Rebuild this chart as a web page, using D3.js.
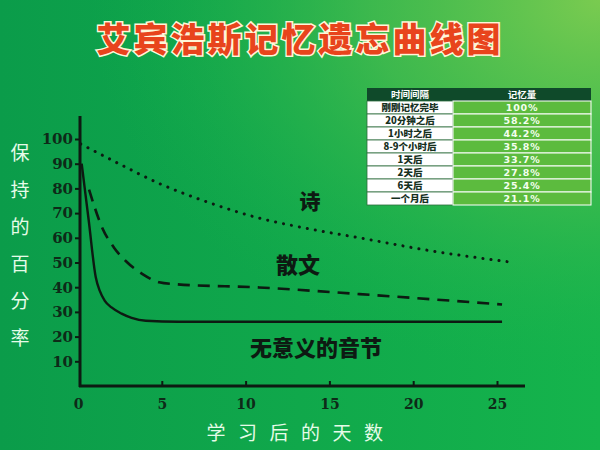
<!DOCTYPE html>
<html><head><meta charset="utf-8">
<script src="https://cdn.jsdelivr.net/npm/d3@7"></script>
<style>html,body{margin:0;padding:0;background:#12ae4c;}svg{display:block;}</style>
</head><body>
<script>
// ---- data ----
const title = "艾宾浩斯记忆遗忘曲线图";
const yLabel = "保持的百分率";
const xLabel = "学习后的天数";
const xTicks = [0, 5, 10, 15, 20, 25];
const yTicks = [10, 20, 30, 40, 50, 60, 70, 80, 90, 100];

const poemDays   = [0.16, 2.5, 4.84, 7.5, 10.8, 13.5, 16.8, 21, 26];
const poemVals   = [98, 89.8, 82, 75, 68, 64, 60, 54.8, 50];
const proseDays  = [0.66, 1.45, 2.15, 2.85, 3.85, 4.84, 5.84, 10.8, 16.8, 25.3];
const proseVals  = [79.5, 64, 56, 50.6, 45.3, 42, 41.2, 39.9, 37.2, 33];
const nonsDays   = [0.22, 0.64, 1.06, 1.3, 1.6, 2.0, 2.6, 3.2, 4.05, 6, 25.3];
const nonsVals   = [90, 67, 44, 38.5, 34.5, 31.8, 29.3, 27.6, 26.4, 26, 26];
const seriesNames = ["诗", "散文", "无意义的音节"];

const tableHeader = ["时间间隔", "记忆量"];
const intervals = ["刚刚记忆完毕", "20分钟之后", "1小时之后", "8-9个小时后", "1天后", "2天后", "6天后", "一个月后"];
const amounts = ["100%", "58.2%", "44.2%", "35.8%", "33.7%", "27.8%", "25.4%", "21.1%"];

// ---- chart ----
const W = 600, H = 450;
const svg = d3.select("body").append("svg").attr("width", W).attr("height", H);
const defs = svg.append("defs");
const lg = defs.append("linearGradient").attr("id", "bg").attr("x1", "0").attr("y1", "0").attr("x2", "1").attr("y2", "0");
lg.append("stop").attr("offset", "0").attr("stop-color", "#0b9c4a");
lg.append("stop").attr("offset", "1").attr("stop-color", "#15b44c");
const rg = defs.append("radialGradient").attr("id", "glow").attr("cx", "1").attr("cy", "0").attr("r", "0.85");
rg.append("stop").attr("offset", "0").attr("stop-color", "#7acb50").attr("stop-opacity", 1);
rg.append("stop").attr("offset", "0.45").attr("stop-color", "#4fbe4e").attr("stop-opacity", 0.7);
rg.append("stop").attr("offset", "1").attr("stop-color", "#15b04c").attr("stop-opacity", 0);
svg.append("rect").attr("width", W).attr("height", H).attr("fill", "url(#bg)");
svg.append("rect").attr("width", W).attr("height", H).attr("fill", "url(#glow)");

const x = d3.scaleLinear().domain([0, 25]).range([78, 497]);
const y = d3.scaleLinear().domain([0, 100]).range([386, 139]);

// title
svg.append("text").attr("x", 300).attr("y", 52).attr("text-anchor", "middle")
  .attr("font-family", "Noto Sans CJK SC").attr("font-weight", 900).attr("font-size", 34)
  .attr("letter-spacing", 3)
  .attr("fill", "#e8441c").attr("stroke", "#fff6d8").attr("stroke-width", 3).attr("paint-order", "stroke")
  .text(title);

// axes
const axisColor = "#0d1a12";
const yAxis = svg.append("g").attr("transform", "translate(80,0)")
  .call(d3.axisLeft(y).tickValues(yTicks).tickSize(5).tickPadding(4).tickFormat(d3.format("d")));
yAxis.select(".domain").remove();
svg.append("line").attr("x1", 80).attr("x2", 80).attr("y1", 116).attr("y2", 387)
  .attr("stroke", axisColor).attr("stroke-width", 3);
const xAxis = svg.append("g").attr("transform", "translate(0,386)")
  .call(d3.axisBottom(x).tickValues(xTicks).tickSizeInner(-5).tickSizeOuter(0).tickPadding(13));
xAxis.select(".domain").remove();
xAxis.selectAll(".tick line").filter(d => d === 0).remove();
svg.append("line").attr("x1", 79).attr("x2", 525).attr("y1", 386).attr("y2", 386)
  .attr("stroke", axisColor).attr("stroke-width", 3);
svg.selectAll(".tick line").attr("stroke", axisColor).attr("stroke-width", 2);
svg.selectAll(".tick text").attr("fill", "#0e2a18").attr("font-family", "DejaVu Serif")
  .attr("font-weight", "bold").attr("font-size", 14);
yAxis.selectAll(".tick text").attr("font-size", 15).attr("dx", 2);

// axis titles
svg.append("g").selectAll("text").data(Array.from(yLabel)).join("text")
  .attr("x", 20).attr("y", (d, i) => 160 + i * 37).attr("text-anchor", "middle")
  .attr("font-family", "Noto Sans CJK SC").attr("font-size", 19).attr("fill", "#e6fbe8").text(d => d);
svg.append("g").selectAll("text").data(Array.from(xLabel)).join("text")
  .attr("x", (d, i) => 216 + i * 31.5).attr("y", 440).attr("text-anchor", "middle")
  .attr("font-family", "Noto Sans CJK SC").attr("font-size", 19).attr("fill", "#e6fbe8").text(d => d);

// curves
const line = d3.line().x(d => x(d[0])).y(d => y(d[1])).curve(d3.curveMonotoneX);
const zip = (a, b) => a.map((v, i) => [v, b[i]]);
svg.append("path").attr("d", line(zip(poemDays, poemVals))).attr("fill", "none")
  .attr("stroke", "#0d1a12").attr("stroke-width", 3).attr("stroke-linecap", "round").attr("stroke-dasharray", "0.1 8");
svg.append("path").attr("d", line(zip(proseDays, proseVals))).attr("fill", "none")
  .attr("stroke", "#0d1a12").attr("stroke-width", 2.6).attr("stroke-dasharray", "12 8");
svg.append("path").attr("d", line(zip(nonsDays, nonsVals))).attr("fill", "none")
  .attr("stroke", "#0d1a12").attr("stroke-width", 2.4);

// series labels
const labPos = [[310, 209, 21], [298, 273, 22], [316, 356, 22]];
svg.append("g").selectAll("text").data(seriesNames).join("text")
  .attr("x", (d, i) => labPos[i][0]).attr("y", (d, i) => labPos[i][1]).attr("text-anchor", "middle")
  .attr("font-family", "Noto Sans CJK SC").attr("font-weight", 900).attr("font-size", (d, i) => labPos[i][2])
  .attr("fill", "#0d1a12").text(d => d);

// table
const tx = 367, tw1 = 86, tw2 = 138, ty = 88, th0 = 13, rh = 13;
const tg = svg.append("g");
tg.append("rect").attr("x", tx).attr("y", ty).attr("width", tw1 + tw2).attr("height", th0)
  .attr("fill", "#0f4a2a");
tg.selectAll("text.h").data(tableHeader).join("text").attr("class", "h")
  .attr("x", (d, i) => i === 0 ? tx + tw1 / 2 : tx + tw1 + tw2 / 2).attr("y", ty + 10)
  .attr("text-anchor", "middle").attr("font-family", "Noto Sans CJK SC").attr("font-weight", "bold")
  .attr("font-size", 9.5).attr("fill", "#ffffff").text(d => d);
const rows = tg.selectAll("g.r").data(intervals).join("g").attr("class", "r")
  .attr("transform", (d, i) => `translate(0,${ty + th0 + i * rh})`);
rows.append("rect").attr("x", tx).attr("y", 0).attr("width", tw1).attr("height", rh)
  .attr("fill", "#ffffff").attr("stroke", "#2e6d3e").attr("stroke-width", 0.8);
rows.append("rect").attr("x", tx + tw1).attr("y", 0).attr("width", tw2).attr("height", rh)
  .attr("fill", "#5cbb3e").attr("stroke", "#ffffff").attr("stroke-width", 1);
rows.append("text").attr("x", tx + tw1 / 2).attr("y", 10).attr("text-anchor", "middle")
  .attr("font-family", "Noto Sans CJK SC").attr("font-weight", 900).attr("font-size", 9.5)
  .attr("fill", "#16301e").text(d => d);
rows.append("text").attr("x", tx + tw1 + tw2 / 2).attr("y", 10).attr("text-anchor", "middle")
  .attr("font-family", "DejaVu Sans").attr("font-weight", "bold").attr("font-size", 9.5)
  .attr("letter-spacing", 0.8).attr("fill", "#f4fff0").text((d, i) => amounts[i]);
</script>
</body></html>
